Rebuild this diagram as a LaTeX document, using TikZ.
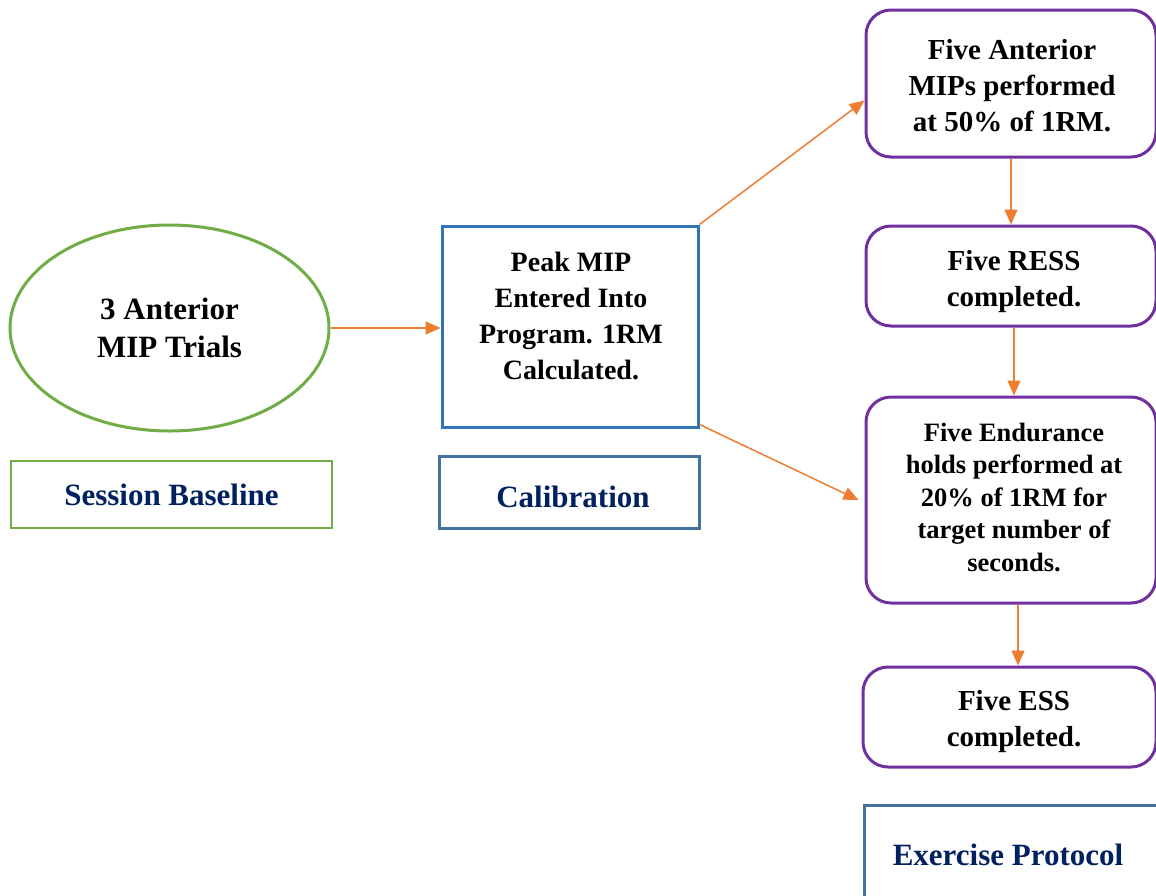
\documentclass[tikz,border=0pt]{standalone}
\usepackage{fontspec}
\setmainfont{Liberation Serif}
\usetikzlibrary{shapes.geometric,arrows.meta,calc}
\definecolor{cgreen}{HTML}{70AD47}
\definecolor{cblue}{HTML}{2E75B6}
\definecolor{cblueb}{HTML}{41719C}
\definecolor{cpurple}{HTML}{7030A0}
\definecolor{corange}{HTML}{ED7D31}
\definecolor{cnavy}{HTML}{002060}
\tikzset{
  conn/.style={draw=corange, line width=1.5pt, -{Triangle[length=15pt,width=13pt]}},
  pbox/.style={draw=cpurple, line width=3pt, rounded corners=25pt, align=center, inner sep=0pt, minimum width=290pt, font=\bfseries\fontsize{29}{36}\selectfont},
  lbl/.style={align=center, inner sep=0pt, text=cnavy, font=\bfseries\fontsize{31}{38}\selectfont},
}
\begin{document}
\begin{tikzpicture}[x=1pt,y=-1pt]
\useasboundingbox (0,0) rectangle (1156,895);
% left
\node[ellipse, draw=cgreen, line width=3pt, minimum width=319pt, minimum height=206pt, inner sep=0pt, align=center, font=\bfseries\fontsize{31}{38}\selectfont] (trials) at (169.5,328) {3 Anterior\\MIP Trials};
\node[lbl, draw=cgreen, line width=1.6pt, minimum width=321pt, minimum height=67pt] (base) at (171.5,494.5) {Session Baseline};
% middle
\node[draw=cblue, line width=3pt, minimum width=256pt, minimum height=201pt, inner sep=0pt] (peak) at (570,326.5) {};
\node[align=center, inner sep=0pt, font=\bfseries\fontsize{28}{36}\selectfont] (peaktxt) at (571,316) {Peak MIP\\Entered Into\\Program. 1RM\\Calculated.};
\node[lbl, draw=cblueb, line width=3pt, minimum width=260pt, minimum height=72pt] (calib) at (569,492) {};
\node[lbl] (calibtxt) at (573,497) {Calibration};
% right
\node[pbox, minimum height=147pt] (b1) at (1011,83.5) {};
\node[align=center, inner sep=0pt, font=\bfseries\fontsize{29}{36}\selectfont] (b1t) at (1012,86) {Five Anterior\\MIPs performed\\at 50\% of 1RM.};
\node[pbox, minimum height=100pt] (b2) at (1011,276) {};
\node[align=center, inner sep=0pt, font=\bfseries\fontsize{29}{36}\selectfont] (b2t) at (1014,282) {Five RESS\\completed.};
\node[pbox, minimum height=206pt] (b3) at (1011,500) {};
\node[align=center, inner sep=0pt, font=\bfseries\fontsize{26.5}{32.5}\selectfont] (b3t) at (1014,497) {Five Endurance\\holds performed at\\20\% of 1RM for\\target number of\\seconds.};
\node[pbox, minimum width=293pt, minimum height=100pt] (b4) at (1009.5,717) {};
\node[align=center, inner sep=0pt, font=\bfseries\fontsize{29}{36}\selectfont] (b4t) at (1014,722) {Five ESS\\completed.};
\node[draw=cblueb, line width=3pt, minimum width=320pt, minimum height=110pt, anchor=north west, inner sep=0pt] (ex) at (863,804) {};
\node[lbl] (ext) at (1008,855) {Exercise Protocol};
% connectors
\draw[conn] (trials.east) -- (trials.east -| peak.west);
\draw[conn] (peak.north east) -- ([yshift=-17pt]b1.west);
\draw[conn] ([yshift=4pt]peak.south east) -- ([xshift=-6pt]b3.west);
\draw[conn] (b1.south) -- (b2.north);
\draw[conn] ([xshift=3pt]b2.south) -- ([xshift=3pt]b3.north);
\draw[conn] ([xshift=7pt]b3.south) -- ([xshift=8.5pt]b4.north);
\end{tikzpicture}
\end{document}
